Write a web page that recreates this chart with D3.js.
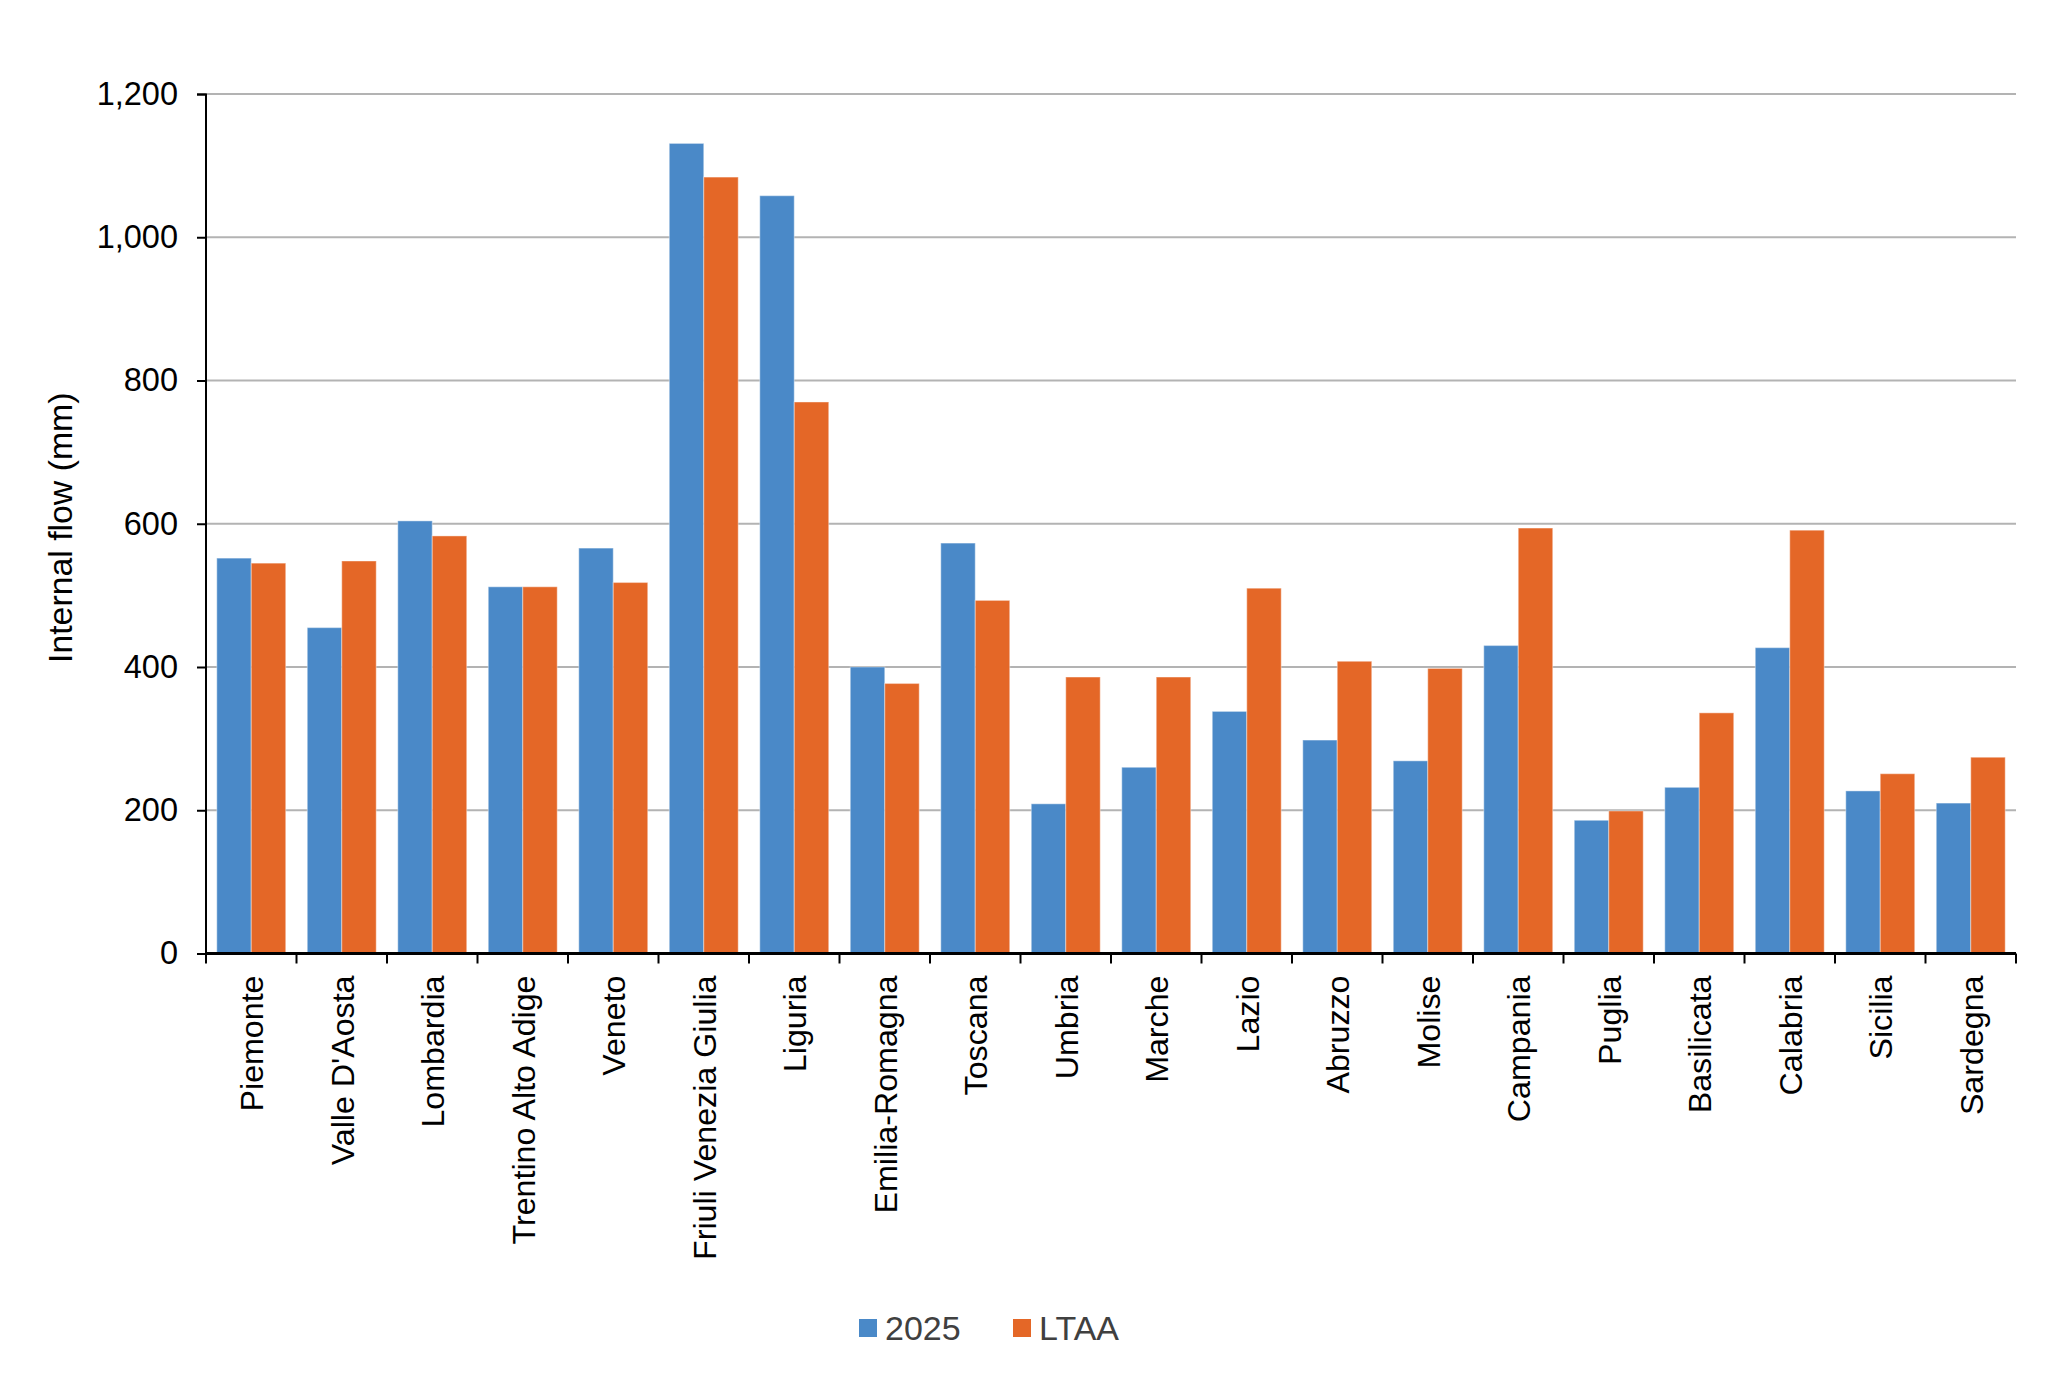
<!DOCTYPE html>
<html>
<head>
<meta charset="utf-8">
<script src="https://cdn.jsdelivr.net/npm/d3@7"></script>
<style>
    body { margin: 0; background: #fff; }
    text { font-family: "Liberation Sans", Arial, sans-serif; }
</style>
</head>
<body>
<div id="viz-container"></div>
<script>
// Data
const regions = ["Piemonte", "Valle D'Aosta", "Lombardia", "Trentino Alto Adige", "Veneto",
    "Friuli Venezia Giulia", "Liguria", "Emilia-Romagna", "Toscana", "Umbria", "Marche",
    "Lazio", "Abruzzo", "Molise", "Campania", "Puglia", "Basilicata", "Calabria",
    "Sicilia", "Sardegna"];
const flow2025 = [552, 455, 604, 512, 566, 1131, 1058, 400, 573, 209, 260, 338, 298, 269,
    430, 186, 232, 427, 227, 210];
const flowLTAA = [545, 548, 583, 512, 518, 1084, 770, 377, 493, 386, 386, 510, 408, 398,
    594, 199, 336, 591, 251, 274];
const seriesNames = ["2025", "LTAA"];
const seriesColors = ["#4a89c8", "#e46727"];
const yTicks = [0, 200, 400, 600, 800, 1000, 1200];

const W = 2057, H = 1380;
const margin = { top: 94, right: 41, bottom: 426.5, left: 206 };
const width = W - margin.left - margin.right,
    height = H - margin.top - margin.bottom;

const rows = regions.map((r, i) => ({ region: r, values: [flow2025[i], flowLTAA[i]] }));

const svg = d3.select("#viz-container")
    .append("svg")
    .attr("width", W)
    .attr("height", H)
    .style("display", "block");

svg.append("rect").attr("width", W).attr("height", H).attr("fill", "#fff");

const chart = svg.append("g")
    .attr("transform", `translate(${margin.left},${margin.top})`);

// Scales
const x0 = d3.scaleBand()
    .domain(regions)
    .range([0, width])
    .paddingInner(0.238)
    .paddingOuter(0.119);
const x1 = d3.scaleBand()
    .domain(seriesNames)
    .range([0, x0.bandwidth()]);
const xCat = d3.scaleBand().domain(regions).range([0, width]);
const y = d3.scaleLinear()
    .domain([0, 1200])
    .range([height, 0]);

// Gridlines
chart.append("g")
    .selectAll("line")
    .data(yTicks.filter(d => d > 0))
    .enter().append("line")
    .attr("x1", 0)
    .attr("x2", width)
    .attr("y1", d => y(d))
    .attr("y2", d => y(d))
    .attr("stroke", "#b3b3b3")
    .attr("stroke-width", 2);

// Bars
const groups = chart.selectAll(".grp")
    .data(rows)
    .enter().append("g")
    .attr("class", "grp")
    .attr("transform", d => `translate(${x0(d.region)},0)`);

groups.selectAll("rect")
    .data(d => d.values.map((v, i) => ({ key: seriesNames[i], value: v, i: i })))
    .enter().append("rect")
    .attr("x", d => x1(d.key))
    .attr("y", d => y(d.value))
    .attr("width", x1.bandwidth())
    .attr("height", d => height - y(d.value))
    .attr("fill", d => seriesColors[d.i])
    .attr("stroke", "#ffffff")
    .attr("stroke-opacity", 0.35)
    .attr("stroke-width", 1.2);

// Y axis
const yAxis = chart.append("g")
    .call(d3.axisLeft(y).tickValues(yTicks).tickSize(9).tickPadding(19)
        .tickFormat(d3.format(",")));
yAxis.select(".domain").attr("stroke", "#000").attr("stroke-width", 2)
    .attr("d", `M-9,0.5H0V${height}`);
yAxis.selectAll(".tick line").attr("stroke", "#000").attr("stroke-width", 2);
yAxis.selectAll(".tick text")
    .attr("font-size", "32.5px")
    .attr("fill", "#000")
    .attr("font-family", "'Liberation Sans', Arial, sans-serif");

// X axis: category boundaries as ticks
const xAxis = chart.append("g")
    .attr("transform", `translate(0,${height})`);
xAxis.append("line")
    .attr("x1", 0).attr("x2", width)
    .attr("stroke", "#000").attr("stroke-width", 2.8);
xAxis.selectAll(".xt")
    .data(regions.concat(["end"]))
    .enter().append("line")
    .attr("class", "xt")
    .attr("x1", (d, i) => i * xCat.step())
    .attr("x2", (d, i) => i * xCat.step())
    .attr("y1", 0).attr("y2", 10)
    .attr("stroke", "#000").attr("stroke-width", 2);
xAxis.selectAll(".xl")
    .data(regions)
    .enter().append("text")
    .attr("class", "xl")
    .attr("transform", d => `translate(${xCat(d) + xCat.bandwidth() / 2 + 11.8},22) rotate(-90)`)
    .attr("text-anchor", "end")
    .attr("font-size", "32.2px")
    .attr("fill", "#000")
    .text(d => d);

// Axis title
svg.append("text")
    .attr("transform", `translate(72,${margin.top + height / 2 + 4}) rotate(-90)`)
    .attr("text-anchor", "middle")
    .attr("font-size", "33.8px")
    .attr("fill", "#000")
    .text("Internal flow (mm)");

// Legend
const legendX = [859, 1013];
const legend = svg.append("g");
legend.selectAll("rect")
    .data(seriesNames)
    .enter().append("rect")
    .attr("x", (d, i) => legendX[i])
    .attr("y", 1319)
    .attr("width", 18)
    .attr("height", 18)
    .attr("fill", (d, i) => seriesColors[i]);
legend.selectAll("text")
    .data(seriesNames)
    .enter().append("text")
    .attr("x", (d, i) => legendX[i] + 26)
    .attr("y", 1340)
    .attr("font-size", "34px")
    .attr("fill", "#404040")
    .text(d => d);
</script>
</body>
</html>
